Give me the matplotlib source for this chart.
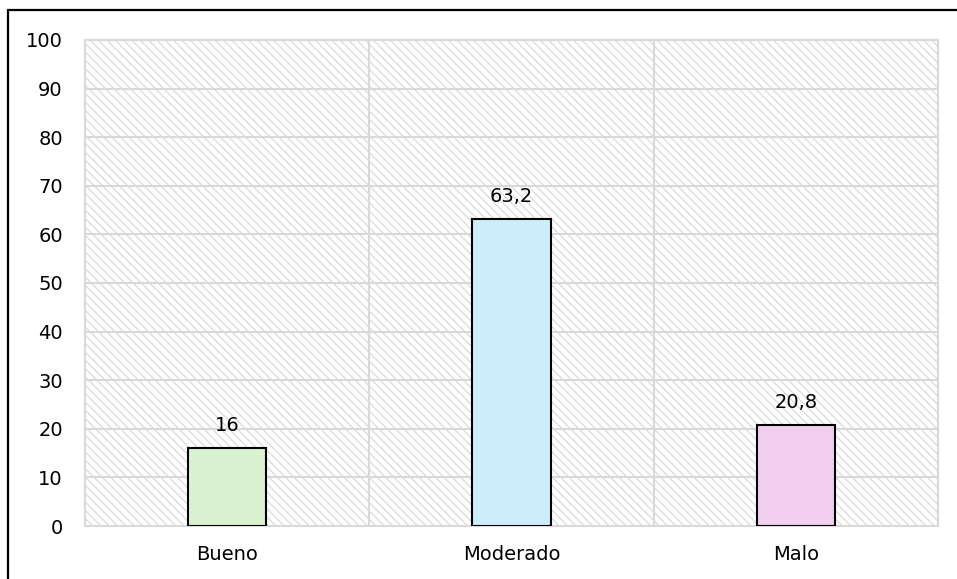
import matplotlib
matplotlib.use("Agg")
import matplotlib.pyplot as plt
from matplotlib.patches import Rectangle

categories = ["Bueno", "Moderado", "Malo"]
values = [16, 63.2, 20.8]
value_labels = ["16", "63,2", "20,8"]
bar_colors = ["#DAF2D0", "#CCEEFB", "#F2CEEF"]
yticks = [0, 10, 20, 30, 40, 50, 60, 70, 80, 90, 100]

plt.rcParams['font.family'] = ['DejaVu Sans']
plt.rcParams['hatch.linewidth'] = 0.9

fig = plt.figure(figsize=(9.57, 5.79), dpi=100)
ax = fig.add_axes([85/957, 1-526/579, (938-85)/957, (526-40)/579])

grid_c = "#D9D9D9"
# hatched background
bg = Rectangle((0, 0), 1, 1, transform=ax.transAxes, facecolor="white",
               edgecolor="#DBDBDB", hatch="\\\\\\\\", linewidth=0, zorder=0)
ax.add_patch(bg)

x = list(range(len(categories)))
bars = ax.bar(x, values, width=0.275, color=bar_colors, edgecolor="black",
              linewidth=1.5, zorder=3)
for xi, v, lab in zip(x, values, value_labels):
    ax.annotate(lab, (xi, v), xytext=(0, 9.5), textcoords="offset points",
                ha="center", va="bottom", fontsize=14, zorder=4)

ax.set_xlim(-0.5, 2.5)
ax.set_ylim(0, 100)
ax.set_yticks(yticks)
ax.set_yticklabels([str(t) for t in yticks])
ax.set_xticks(x)
ax.set_xticklabels(categories)
ax.set_xticks([0.5, 1.5], minor=True)
ax.tick_params(axis="both", which="both", length=0, labelsize=14)
ax.tick_params(axis="y", pad=16)
ax.tick_params(axis="x", pad=14)
ax.grid(True, axis="y", which="major", color=grid_c, linewidth=1.5, zorder=1)
ax.grid(True, axis="x", which="minor", color=grid_c, linewidth=1.5, zorder=1)
ax.set_axisbelow(True)
for s in ax.spines.values():
    s.set_color(grid_c)
    s.set_linewidth(1.5)

# outer frame (right/bottom edges beyond the image)
frame = Rectangle((8/957, -0.1), 1.2, 1.1 - 10/579, transform=fig.transFigure,
                  fill=False, edgecolor="black", linewidth=1.6, clip_on=False)
fig.patches.append(frame)

fig.savefig("out.png", dpi=100, facecolor="white")
